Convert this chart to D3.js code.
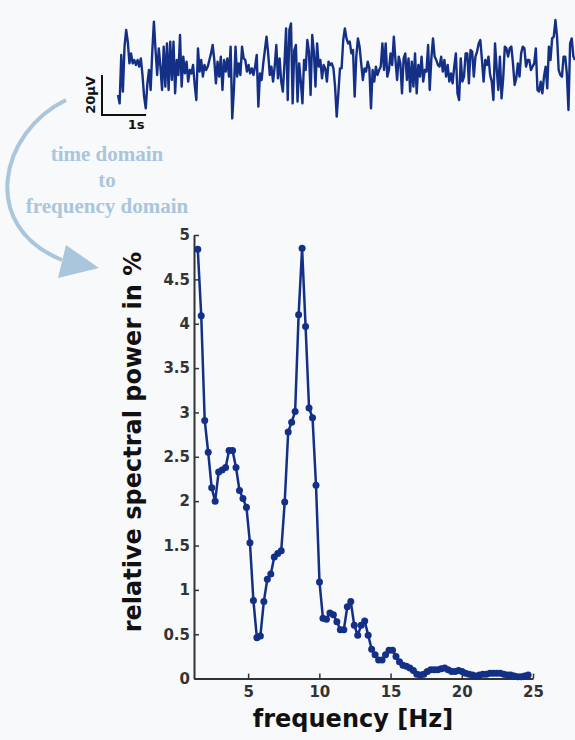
<!DOCTYPE html>
<html>
<head>
<meta charset="utf-8">
<script src="https://cdn.jsdelivr.net/npm/d3@7"></script>
<style>
body { margin: 0; background: #f8f9fa; }
svg { display: block; }
</style>
</head>
<body>
<svg id="fig" width="575" height="740"></svg>
<script>
// relative spectral power (%) per FFT bin
var powerPct = [
	4.84, 4.09, 2.91, 2.55, 2.15, 2.0, 2.33, 2.35, 2.38, 2.57,
	2.57, 2.38, 2.12, 2.03, 1.93, 1.53, 0.88, 0.46, 0.48, 0.87,
	1.12, 1.18, 1.37, 1.41, 1.44, 1.99, 2.78, 2.89, 3.01, 4.10,
	4.85, 3.97, 3.05, 2.94, 2.18, 1.09, 0.68, 0.67, 0.74, 0.72,
	0.64, 0.55, 0.55, 0.81, 0.87, 0.60, 0.49, 0.60, 0.65, 0.49,
	0.33, 0.27, 0.21, 0.21, 0.27, 0.32, 0.32, 0.25, 0.19, 0.15,
	0.14, 0.12, 0.09, 0.05, 0.04, 0.05, 0.08, 0.10, 0.10, 0.10,
	0.11, 0.12, 0.10, 0.08, 0.08, 0.09, 0.08, 0.06, 0.05, 0.04,
	0.03, 0.04, 0.05, 0.05, 0.06, 0.06, 0.06, 0.06, 0.05, 0.04,
	0.04, 0.03, 0.02, 0.02, 0.03, 0.04
];
var binWidth = 1 / 4.096;   // Hz
var firstBin = 6;

// raw EEG trace in microvolts
var eegMicrovolts = [
	-17.5,-21.7,2.5,-15.8,6.7,15,9.2,-1.7,3.3,-1.7,
	0,-2.5,0,-3.3,0.8,-7.5,-18.3,-24.2,-11.7,-5,
	-15,4.2,19.2,5,-7.5,5.8,-3.3,-15,6.7,-13.3,
	8.3,-15,9.2,-10,9.2,-16.7,0,-7.5,12.5,-13.3,
	1.7,-6.7,-0.8,-10.8,-5,-6.7,-2.5,-12.5,-20,5.8,
	-5.8,0,-8.3,-2.5,-5,-3.3,0,3.3,7.5,0,
	-11.7,-0.8,-8.3,1.7,-15,0,-5.8,0.8,-8.3,6.7,
	-29.2,-15,6.7,-8.3,-1.7,-7.5,6.7,0.8,0,-5.8,
	-2.5,-6.7,-4.2,-7.5,-3.3,2.5,-23.3,-6.7,-10,-1.7,
	5,11.7,3.3,-7.5,-3.3,-10.8,-3.3,7.5,-9.2,0.8,
	-10.8,-15.8,-1.7,15.8,-20,15,18.3,-21.7,5,7.5,
	-20.8,-1.7,-10.8,-21.7,0,-5,10,4.2,-17.5,12.5,
	4.2,-13.3,8.3,-3.3,0,-9.2,-2.5,-4.2,-10.8,-0.8,
	-2.5,-1.7,-4.2,-13.3,-28.3,-16.7,-4.2,-4.2,10,
	15.8,10.8,8.3,9.2,3.3,5,-18.3,1.7,10.8,6.7,
	-1.7,-10,-4.2,-5.8,-0.8,-4.2,-24.2,-5,-10.8,-3.3,
	-7.5,-5,-3.3,8.3,-5,8.3,-8.3,-5,3.3,-2.5,
	11.7,0,-10,1.7,-1.7,-16.7,0.8,3.3,-10,0.8,
	-15.8,-0.8,-13.3,3.3,-16.7,-2.5,-8.3,1.7,-10.8,-5,
	-5.8,7.5,-15,0.8,10.8,1.7,0,-2.5,-3.3,1.7,
	-5.8,0,-8.3,-2.5,-10.8,-6.7,-11.7,-3.3,3.3,-16.7,
	-20,0.8,-10.8,-8.3,3.3,3.3,-11.7,5,4.2,-8.3,
	1.7,4.2,8.3,10,0,-10.8,0,-2.5,1.7,-7.5,
	-10.8,-20,8.3,-4.2,-15,1.7,-19.2,-9.2,6.7,5.8,
	1.7,5.8,6.7,-1.7,-12.5,-9.2,-1.7,-8.3,3.3,6.7,
	5.8,-3.3,0,0,-5,-3.3,-1.7,5.8,-15,-15.8,
	-10.8,-16.7,-8.3,-3.3,-14.2,6.7,0,10.8,11.7,20,
	11.7,-5,-7.5,-8.3,1.7,1.7,-6.7,-25,8.3,10.8,
	1.7,0
];
var sampleRate = 27; // samples per second

var xTicks = [5, 10, 15, 20, 25];
var yTicks = [0, 0.5, 1, 1.5, 2, 2.5, 3, 3.5, 4, 4.5, 5];

var navy = "#132f86";
var paleBlue = "#a9c6dd";
var boldFont = "'DejaVu Sans', Verdana, sans-serif";

var svg = d3.select("#fig");
svg.append("rect").attr("width", 575).attr("height", 740).attr("fill", "#f8f9fa");

// ---- EEG trace ----
var tx = d3.scaleLinear().domain([0, (eegMicrovolts.length - 1) / sampleRate]).range([118, 575]);
var ty = d3.scaleLinear().domain([0, 20]).range([60, 20]);

svg.append("path")
	.datum(eegMicrovolts)
	.attr("fill", "none")
	.attr("stroke", navy)
	.attr("stroke-width", 2.4)
	.attr("stroke-linejoin", "round")
	.attr("d", d3.line()
		.x(function(d, i){ return tx(i / sampleRate); })
		.y(function(d){ return ty(d); }));

// scale bar
var barX = 102, barY = 115;
var barW = tx(1) - tx(0), barH = ty(0) - ty(20);
svg.append("path")
	.attr("fill", "none")
	.attr("stroke", "#111")
	.attr("stroke-width", 2)
	.attr("d", "M" + barX + "," + (barY - barH) + "V" + barY + "H" + (barX + barW));
svg.append("text")
	.attr("transform", "translate(" + (barX - 7) + "," + (barY - barH / 2) + ") rotate(-90)")
	.attr("text-anchor", "middle")
	.style("font", "bold 13px " + boldFont)
	.attr("fill", "#111")
	.text("20µV");
svg.append("text")
	.attr("x", barX + barW / 2 + 12)
	.attr("y", barY + 14)
	.attr("text-anchor", "middle")
	.style("font", "bold 13px " + boldFont)
	.attr("fill", "#111")
	.text("1s");

// ---- curved arrow + caption ----
var arc = d3.path();
arc.moveTo(66, 100);
arc.bezierCurveTo(0, 132, -22, 226, 62, 260);
svg.append("path")
	.attr("d", arc.toString())
	.attr("fill", "none")
	.attr("stroke", paleBlue)
	.attr("stroke-width", 4);
svg.append("path")
	.attr("d", "M99,268L66,245L58,278Z")
	.attr("fill", paleBlue);

var caption = ["time domain", "to", "frequency domain"];
svg.selectAll(".cap").data(caption).enter().append("text")
	.attr("class", "cap")
	.attr("x", 107)
	.attr("y", function(d, i){ return 161 + i * 26; })
	.attr("text-anchor", "middle")
	.style("font", "bold 21px 'Liberation Serif', 'Times New Roman', serif")
	.attr("fill", paleBlue)
	.text(function(d){ return d; });

// ---- spectrum ----
var x = d3.scaleLinear().domain([1.2, 25]).range([194, 533]);
var y = d3.scaleLinear().domain([0, 5]).range([678.6, 235]);

var spectrum = powerPct.map(function(p, i){
	return { f: (firstBin + i) * binWidth, p: p };
});

var g = svg.append("g");

var xAxis = g.append("g")
	.attr("transform", "translate(0," + y(0) + ")")
	.call(d3.axisBottom(x).tickValues(xTicks).tickSize(-5).tickSizeOuter(0).tickPadding(8));
var yAxis = g.append("g")
	.attr("transform", "translate(" + x(1.2) + ",0)")
	.call(d3.axisLeft(y).tickValues(yTicks).tickFormat(d3.format("")).tickSize(-5).tickSizeOuter(0).tickPadding(4));

[xAxis, yAxis].forEach(function(ax){
	ax.select(".domain").attr("stroke", "#333").attr("stroke-width", 2);
	ax.selectAll(".tick line").attr("stroke", "#333").attr("stroke-width", 1.5);
	ax.selectAll(".tick text")
		.attr("fill", "#333")
		.style("font", "bold 15px " + boldFont);
});

g.append("path")
	.datum(spectrum)
	.attr("fill", "none")
	.attr("stroke", navy)
	.attr("stroke-width", 2.5)
	.attr("stroke-linejoin", "round")
	.attr("d", d3.line()
		.x(function(d){ return x(d.f); })
		.y(function(d){ return y(d.p); }));

g.selectAll(".pt").data(spectrum).enter().append("circle")
	.attr("class", "pt")
	.attr("cx", function(d){ return x(d.f); })
	.attr("cy", function(d){ return y(d.p); })
	.attr("r", 3.5)
	.attr("fill", navy);

g.append("text")
	.attr("transform", "translate(141,442) rotate(-90)")
	.attr("text-anchor", "middle")
	.style("font", "bold 24px " + boldFont)
	.attr("fill", "#111")
	.text("relative spectral power in %");

g.append("text")
	.attr("x", 353)
	.attr("y", 727)
	.attr("text-anchor", "middle")
	.style("font", "bold 24px " + boldFont)
	.attr("fill", "#111")
	.text("frequency [Hz]");
</script>
</body>
</html>
